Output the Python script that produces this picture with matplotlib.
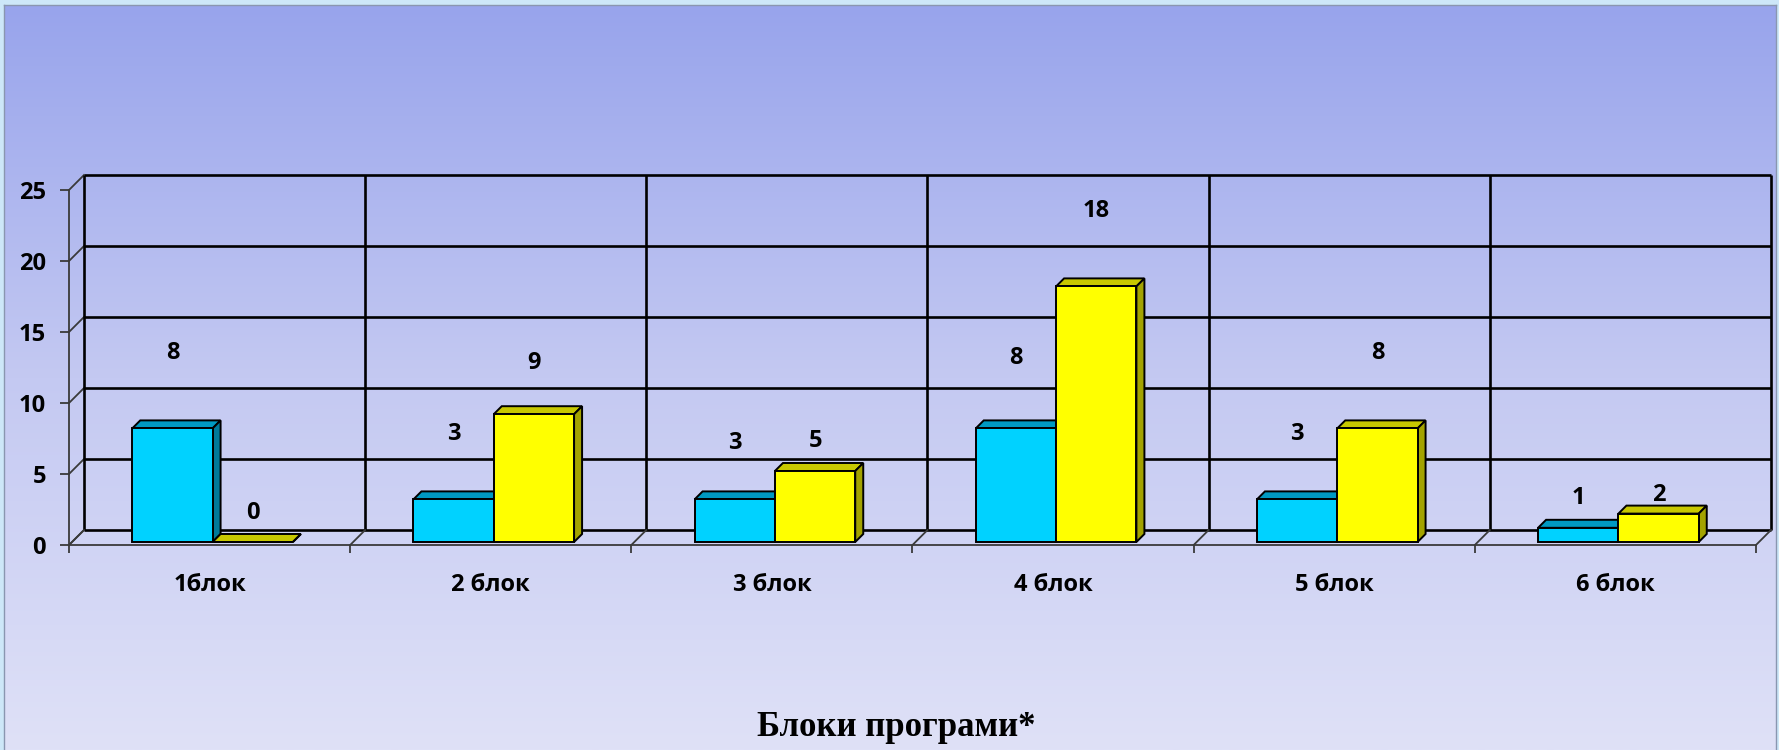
import numpy as np
import matplotlib
matplotlib.use("Agg")
import matplotlib.pyplot as plt
from matplotlib.patches import Polygon, Rectangle
from matplotlib.colors import LinearSegmentedColormap

# ---- data ----
categories = ["1блок", "2 блок", "3 блок", "4 блок", "5 блок", "6 блок"]
series_a = [8, 3, 3, 8, 3, 1]      # cyan
series_b = [0, 9, 5, 18, 8, 2]     # yellow
yticks = [0, 5, 10, 15, 20, 25]
title = "Блоки програми*"
# label heights (data units) as placed in the reference
label_y_a = [13.5, 7.8, 7.16, 13.15, 7.8, 3.3]
label_y_b = [2.23, 12.8, 7.3, 23.5, 13.5, 3.5]

W, H = 1779, 750
fig = plt.figure(figsize=(W / 100, H / 100), dpi=100)
fig.patch.set_facecolor("#CDE7F8")

# background gradient panel
bg = fig.add_axes([4 / W, 0, (1776 - 4) / W, (H - 5) / H])
cmap = LinearSegmentedColormap.from_list("bg", ["#98A4EC", "#C4C9F2", "#DFE1F7"])
grad = np.linspace(0, 1, 256).reshape(-1, 1)
bg.imshow(grad, aspect="auto", cmap=cmap, extent=[0, 1, 0, 1], origin="upper")
bg.set_xticks([]); bg.set_yticks([])
for s in bg.spines.values():
    s.set_color("#8A96B0"); s.set_linewidth(1)
bg.spines["bottom"].set_visible(False)
bg.set_zorder(0)

# main axes (front plane)
x0, x1 = 69, 1756
y0, y1 = 545, 190
ax = fig.add_axes([x0 / W, (H - y0) / H, (x1 - x0) / W, (y0 - y1) / H])
ax.set_zorder(1)
ax.patch.set_alpha(0)
n = len(categories)
ax.set_xlim(0, n)
ax.set_ylim(0, 25)

ax_w_px = x1 - x0
ax_h_px = y0 - y1
DX = n * 15 / ax_w_px
DY = 25 * 15 / ax_h_px

grid_kw = dict(color="black", lw=1.9, clip_on=False, zorder=2, solid_capstyle="butt")
front_kw = dict(color="#3a3a3a", lw=1.3, clip_on=False, zorder=2)

# back wall horizontal gridlines
for yv in yticks:
    ax.plot([DX, n + DX], [yv + DY, yv + DY], **grid_kw)
    ax.plot([0, DX], [yv, yv + DY], **front_kw)
# back wall verticals
for k in range(n + 1):
    ax.plot([k + DX, k + DX], [DY, 25 + DY], **grid_kw)
    ax.plot([k, k + DX], [0, DY], **front_kw)

# spines / ticks
for s in ["top", "right"]:
    ax.spines[s].set_visible(False)
for s in ["left", "bottom"]:
    ax.spines[s].set_color("#3a3a3a")
    ax.spines[s].set_linewidth(1.3)

tick_font = dict(family=["Open Sans", "DejaVu Sans"], weight="bold", size=17)
ax.set_yticks(yticks)
ax.set_yticklabels([str(v) for v in yticks], fontdict=tick_font)
ax.tick_params(axis="y", direction="out", length=6.5, width=1.3, color="#3a3a3a", pad=10)
ax.set_xticks(np.arange(n + 1), minor=True)
ax.set_xticks(np.arange(n) + 0.5)
ax.set_xticklabels(categories, fontdict=tick_font)
ax.tick_params(axis="x", which="major", length=0, pad=20)
ax.tick_params(axis="x", which="minor", direction="out", length=6, width=1.3, color="#3a3a3a")

# bars
bw = 1 / 3.5
gap = (1 - 2 * bw) / 2
fdx, fdy = 0.2 * DX, 0.2 * DY
bdx, bdy = 8 / 15 * DX, 8 / 15 * DY

cols_a = ("#00D2FF", "#0099C2", "#007A9A")
cols_b = ("#FFFF00", "#C8C800", "#A3A300")


def box(xl, h, cols, z):
    front, top, side = cols
    xl = xl + fdx
    yb = fdy
    ekw = dict(edgecolor="black", lw=1.4, clip_on=False, zorder=z, joinstyle="miter")
    ax.add_patch(Polygon([(xl, yb + h), (xl + bw, yb + h), (xl + bw + bdx, yb + h + bdy),
                          (xl + bdx, yb + h + bdy)], closed=True, facecolor=top, **ekw))
    ax.add_patch(Polygon([(xl + bw, yb), (xl + bw + bdx, yb + bdy), (xl + bw + bdx, yb + h + bdy),
                          (xl + bw, yb + h)], closed=True, facecolor=side, **ekw))
    ax.add_patch(Rectangle((xl, yb), bw, h, facecolor=front, **ekw))


lab_font = dict(family=["Open Sans", "DejaVu Sans"], weight="bold", size=17)
for i in range(n):
    xa = i + gap
    xb = i + gap + bw
    box(xa, series_a[i], cols_a, 3 + 2 * i)
    box(xb, series_b[i], cols_b, 4 + 2 * i)
    ax.text(xa + bw / 2 + fdx, label_y_a[i], str(series_a[i]), ha="center", va="center",
            fontdict=lab_font, zorder=20, clip_on=False)
    ax.text(xb + bw / 2 + fdx, label_y_b[i], str(series_b[i]), ha="center", va="center",
            fontdict=lab_font, zorder=20, clip_on=False)

fig.text(896 / W, 1 - 728 / H, title, ha="center", va="center",
         family=["Liberation Serif", "DejaVu Serif"], weight="bold", size=25)

fig.savefig("out.png", dpi=100)
